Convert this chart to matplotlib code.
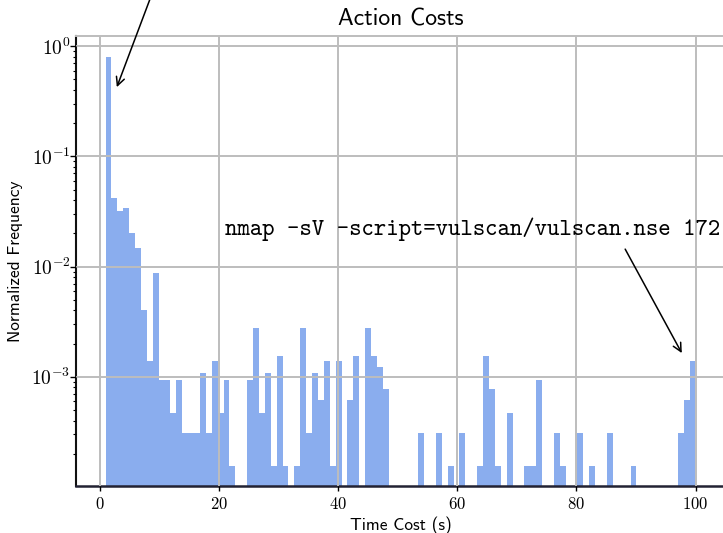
import numpy as np
import matplotlib
matplotlib.use("Agg")
import matplotlib.pyplot as plt
from matplotlib.ticker import FuncFormatter, LogLocator

plt.rcParams["font.family"] = "cmr10"
plt.rcParams["mathtext.fontset"] = "cm"
plt.rcParams["axes.formatter.use_mathtext"] = True

# Histogram of action time costs: 100 equal bins between 1 s and 100 s
bin_edges = np.linspace(1, 100, 101)
bin_counts = [
    5180, 270, 206, 219, 131, 95, 26, 9, 56, 6,      # bins 0-9
    6, 3, 6, 2, 2, 2, 7, 2, 9, 3,                    # bins 10-19
    6, 1, 0, 0, 6, 18, 3, 7, 1, 10,                  # bins 20-29
    1, 0, 1, 18, 2, 7, 4, 9, 1, 9,                   # bins 30-39
    0, 4, 10, 0, 18, 10, 8, 5, 0, 0,                 # bins 40-49
    0, 0, 0, 2, 0, 0, 2, 0, 1, 0,                    # bins 50-59
    2, 0, 0, 1, 10, 5, 1, 0, 3, 0,                   # bins 60-69
    0, 1, 1, 6, 0, 0, 2, 1, 0, 0,                    # bins 70-79
    2, 0, 1, 0, 0, 2, 0, 0, 0, 1,                    # bins 80-89
    0, 0, 0, 0, 0, 0, 0, 2, 4, 9,                    # bins 90-99
]
x_ticks = [0, 20, 40, 60, 80, 100]

counts = np.asarray(bin_counts, dtype=float)
centers = 0.5 * (bin_edges[:-1] + bin_edges[1:])
weights = counts / counts.sum()

fig = plt.figure(figsize=(7.23, 5.33), dpi=100)
ax = fig.add_axes([76 / 723, 1 - 486 / 533, 649 / 723, (486 - 36.3) / 533])

ax.hist(centers, bins=bin_edges, weights=weights, color="#8aadee",
        linewidth=0, log=True, zorder=1)

ax.set_xlim(-3.95, 104.95)
ax.set_ylim(1.02e-4, 1.23)
ax.set_xticks(x_ticks)
ax.xaxis.set_major_formatter(FuncFormatter(lambda v, p: r"$%d$" % v))
ax.yaxis.set_major_locator(LogLocator(base=10))
ax.yaxis.set_minor_locator(LogLocator(base=10, subs=np.arange(2, 10)))

ax.grid(True, which="major", color="#bdbdbd", linewidth=1.4, zorder=3)
ax.set_axisbelow(False)

for side in ("top", "right"):
    ax.spines[side].set_color("#bdbdbd")
    ax.spines[side].set_linewidth(1.4)
ax.spines["left"].set_color("#111111")
ax.spines["left"].set_linewidth(1.5)
ax.spines["bottom"].set_color("#222233")
ax.spines["bottom"].set_linewidth(1.8)

ax.tick_params(axis="y", which="major", direction="out", length=4, width=1,
               labelsize=14, pad=0)
ax.tick_params(axis="y", which="minor", direction="out", length=2.5, width=0.8)
ax.tick_params(axis="x", which="major", direction="out", length=3.5, width=1,
               labelsize=12, pad=4)
ax.tick_params(top=False, right=False, which="both")

ax.set_title("Action Costs", family="cmss10", fontsize=17, pad=8)
ax.set_xlabel("Time Cost (s)", family="cmss10", fontsize=12.5, labelpad=3)
ax.set_ylabel("Normalized Frequency", family="cmss10", fontsize=12.5,
              labelpad=6)

arrow = dict(arrowstyle="->", color="black", linewidth=1.1,
             mutation_scale=15, shrinkA=0, shrinkB=0)
ax.annotate("", xy=(2.9, 0.425), xytext=(8.6, 2.8), xycoords="data",
            textcoords="data", arrowprops=arrow, annotation_clip=False)
ax.annotate("", xy=(97.7, 0.00164), xytext=(88.2, 0.0144),
            arrowprops=arrow)
ax.text(21.0, 0.0219, "nmap -sV -script=vulscan/vulscan.nse 172",
        family="cmtt10", fontsize=17, ha="left", va="center", zorder=5)

fig.savefig("out.png", dpi=100)
